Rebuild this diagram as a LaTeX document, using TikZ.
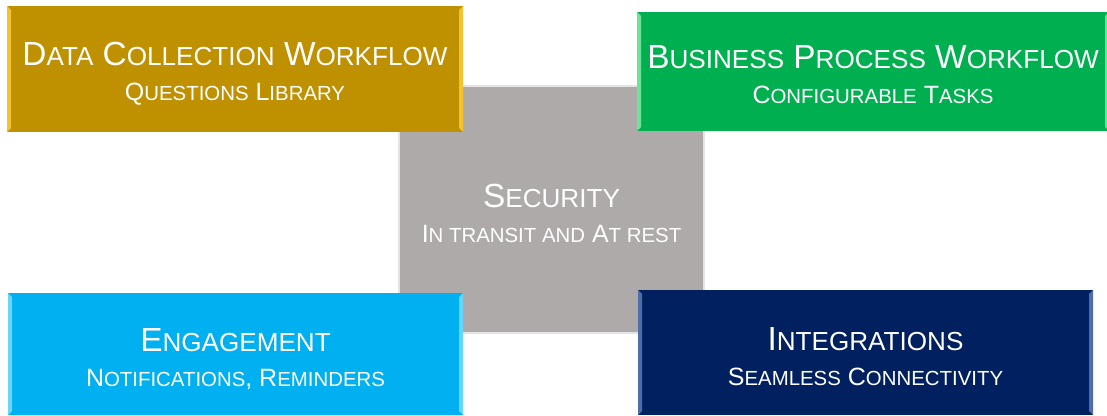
\documentclass[tikz,border=0pt]{standalone}
\usepackage{fontspec}
\setmainfont{Liberation Sans}
\usetikzlibrary{positioning}

\definecolor{goldbox}{HTML}{BF9000}
\definecolor{goldedge}{HTML}{F2C230}
\definecolor{greenbox}{HTML}{00B050}
\definecolor{greenedge}{HTML}{6BE39A}
\definecolor{cyanbox}{HTML}{00B0F0}
\definecolor{cyanedge}{HTML}{66D6FA}
\definecolor{navybox}{HTML}{002060}
\definecolor{navyedge}{HTML}{4F6DA6}
\definecolor{secgray}{HTML}{AEAAAA}
\definecolor{secedge}{HTML}{E4E4E4}

\newcommand\tsc[1]{{\fontsize{26.1}{30}\selectfont #1}}
\newcommand\ssc[1]{{\fontsize{20.4}{24}\selectfont #1}}

\tikzset{
  tile/.style={rectangle, inner sep=0pt, outer sep=0pt},
  ttl/.style={text=white, anchor=base, inner sep=0pt, font=\fontsize{33.4}{36}\selectfont},
  sub/.style={text=white, anchor=base, inner sep=0pt, font=\fontsize{25}{28}\selectfont}
}

\begin{document}
\begin{tikzpicture}[x=1pt,y=-1pt]
  \useasboundingbox (0,0) rectangle (1107,415);

  % centre tile first, the others lie over its corners
  \node[tile, fill=secgray, draw=secedge, line width=2.5pt,
        minimum width=305pt, minimum height=247pt] (sec) at (551.5,209.5) {};

  \node[tile, fill=goldbox,  minimum width=456pt, minimum height=126pt] (dcw) at (235,69) {};
  \node[tile, fill=greenbox, minimum width=472pt, minimum height=119pt] (bpw) at (873,71.5) {};
  \node[tile, fill=cyanbox,  minimum width=455pt, minimum height=122pt] (eng) at (235.5,354) {};
  \node[tile, fill=navybox,  minimum width=455pt, minimum height=125pt] (int) at (865.5,352.5) {};

  % bevelled side edges
  \foreach \b/\c in {dcw/goldedge, bpw/greenedge, eng/cyanedge, int/navyedge} {
    \fill[\c] (\b.north west) -- (\b.south west) -- ([xshift=4pt,yshift=4pt]\b.south west)
      -- ([xshift=4pt,yshift=-4pt]\b.north west) -- cycle;
    \fill[\c] (\b.north east) -- (\b.south east) -- ([xshift=-4pt,yshift=4pt]\b.south east)
      -- ([xshift=-4pt,yshift=-4pt]\b.north east) -- cycle;
  }

  \node[ttl] (dcwt) at ([yshift=4pt]dcw.center) {D\tsc{ATA} C\tsc{OLLECTION} W\tsc{ORKFLOW}};
  \node[sub] (dcws) at ([yshift=-31pt]dcw.center) {Q\ssc{UESTIONS} L\ssc{IBRARY}};

  \node[ttl] (bpwt) at ([yshift=3.5pt]bpw.center) {B\tsc{USINESS} P\tsc{ROCESS} W\tsc{ORKFLOW}};
  \node[sub] (bpws) at ([yshift=-31.5pt]bpw.center) {C\ssc{ONFIGURABLE} T\ssc{ASKS}};

  \node[ttl] (sect) at ([yshift=2.5pt]sec.center) {S\tsc{ECURITY}};
  \node[sub] (secs) at ([yshift=-32.5pt]sec.center) {I\ssc{N TRANSIT AND} A\ssc{T REST}};

  \node[ttl] (engt) at ([yshift=3pt]eng.center) {E\tsc{NGAGEMENT}};
  \node[sub] (engs) at ([yshift=-32pt]eng.center) {N\ssc{OTIFICATIONS}, R\ssc{EMINDERS}};

  \node[ttl] (intt) at ([yshift=2.5pt]int.center) {I\tsc{NTEGRATIONS}};
  \node[sub] (ints) at ([yshift=-32.5pt]int.center) {S\ssc{EAMLESS} C\ssc{ONNECTIVITY}};
\end{tikzpicture}
\end{document}
